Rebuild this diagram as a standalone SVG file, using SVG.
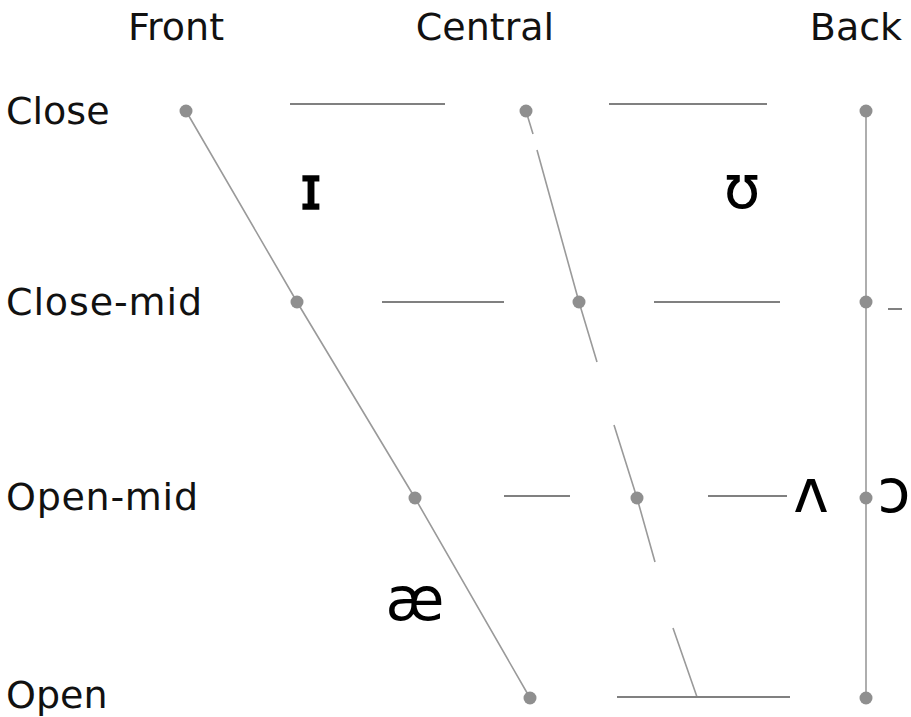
<svg xmlns="http://www.w3.org/2000/svg" width="911" height="717" viewBox="0 0 911 717">
<style>
.lbl{font-family:"DejaVu Sans",sans-serif;font-size:38px;fill:#111}
.ipa{font-family:"DejaVu Sans",sans-serif;font-size:60px;fill:#000}
.dot{fill:#8f8f8f}
.h{stroke:#808080;stroke-width:2.2;fill:none}
.d{stroke:#9a9a9a;stroke-width:1.6;fill:none}
</style>
<rect width="911" height="717" fill="#fff"/>
<g id="column-labels">
<text class="lbl" x="176" y="40" text-anchor="middle">Front</text>
<text class="lbl" x="485" y="40" text-anchor="middle">Central</text>
<text class="lbl" x="856" y="40" text-anchor="middle">Back</text>
</g>
<g id="row-labels">
<text class="lbl" x="6" y="124">Close</text>
<text class="lbl" x="6" y="315" textLength="196">Close-mid</text>
<text class="lbl" x="6" y="510" textLength="192">Open-mid</text>
<text class="lbl" x="6" y="708">Open</text>
</g>
<g id="connectors">
<path class="d" d="M186 111 L297 302 L415 498 L530 698"/>
<path class="d" d="M526 111 L533 134 M537 150 L579 302 L597 362 M614 425 L637 498 L655 562 M673 628 L697 697"/>
<path class="d" d="M866 111 V698"/>
<path class="h" d="M290 104 H445 M609 104 H767 M382 302 H504 M654 302 H780 M888 309 H902 M504 496 H570 M708 496 H787 M617 697 H790"/>
</g>
<g id="dots">
<circle class="dot" cx="186" cy="111" r="6.5"/>
<circle class="dot" cx="526" cy="111" r="6.5"/>
<circle class="dot" cx="866" cy="111" r="6.5"/>
<circle class="dot" cx="297" cy="302" r="6.5"/>
<circle class="dot" cx="579" cy="302" r="6.5"/>
<circle class="dot" cx="866" cy="302" r="6.5"/>
<circle class="dot" cx="415" cy="498" r="6.5"/>
<circle class="dot" cx="637" cy="498" r="6.5"/>
<circle class="dot" cx="866" cy="498" r="6.5"/>
<circle class="dot" cx="530" cy="698" r="6.5"/>
<circle class="dot" cx="866" cy="698" r="6.5"/>
</g>
<g id="vowels">
<text class="ipa" x="311" y="209" text-anchor="middle" stroke="#000" stroke-width="1.5">ɪ</text>
<text class="ipa" x="742" y="208" text-anchor="middle">ʊ</text>
<text class="ipa" x="811" y="512" text-anchor="middle">ʌ</text>
<text class="ipa" x="894" y="512" text-anchor="middle">ɔ</text>
<text class="ipa" x="415" y="620" text-anchor="middle" font-size="54">æ</text>
</g>
</svg>
